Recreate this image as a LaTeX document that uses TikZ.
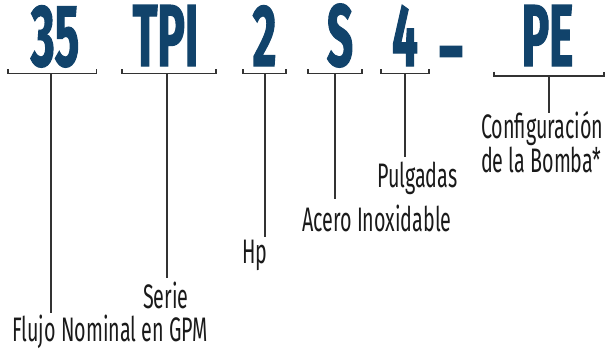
\documentclass[tikz,border=0pt]{standalone}
\usepackage{fontspec}
\newfontfamily\bigf{Fira Sans}[FakeStretch=0.52,FakeBold=1.2]
\newfontfamily\labf{Fira Sans}[FakeStretch=0.58]
\definecolor{codeblue}{HTML}{11436B}
\definecolor{linegray}{HTML}{333333}
\definecolor{labgray}{HTML}{1A1A1A}
\begin{document}
\begin{tikzpicture}[x=1pt,y=-1pt]
\useasboundingbox (0,0) rectangle (606,349);
\tikzset{
  code/.style={text=codeblue, font=\bigf\bfseries\fontsize{88}{88}\selectfont, inner sep=0pt, anchor=base},
  lab/.style={text=labgray, font=\labf\fontsize{34}{29}\selectfont, inner sep=0pt, anchor=base west, align=left},
  brk/.style={draw=linegray, line width=1.8pt, line join=miter},
  stem/.style={draw=linegray, line width=1.5pt}
}
% code letters
\node[code] (c1) at (55,66) {35};
\node[code] (c2) at (165.5,66) {TPI};
\node[code] (c3) at (264.5,66) {2};
\node[code] (c4) at (340,66) {S};
\node[code] (c5) at (405,66) {4};
\node[code] (cd) at (451,79) {–};
\node[code] (c6) at (547.5,66) {PE};
% brackets
\draw[brk] (8,69) -- (8,73.5) -- (96.5,73.5) -- (96.5,69);
\draw[brk] (122,69) -- (122,73.5) -- (216,73.5) -- (216,69);
\draw[brk] (243,69) -- (243,73.5) -- (286,73.5) -- (286,69);
\draw[brk] (308,69) -- (308,73.5) -- (362,73.5) -- (362,69);
\draw[brk] (381,69) -- (381,73.5) -- (429,73.5) -- (429,69);
\draw[brk] (494,71.5) -- (494,76) -- (604,76) -- (604,71.5);
\coordinate (b1) at (51,73.5);
\coordinate (b2) at (167,73.5);
\coordinate (b3) at (265,73.5);
\coordinate (b4) at (335,73.5);
\coordinate (b5) at (405,73.5);
\coordinate (b6) at (549,76);
% stem ends
\coordinate (e1) at (51,313);
\coordinate (e2) at (167,278);
\coordinate (e3) at (265,237);
\coordinate (e4) at (335,199);
\coordinate (e5) at (405,157);
\coordinate (e6) at (549,113);
% labels
\node[lab] (l1) at (12,341) {Flujo Nominal en GPM};
\node[lab] (l2) at (143,308) {Serie};
\node[lab] (l3) at (242,263) {Hp};
\node[lab] (l4) at (302,231) {Acero Inoxidable};
\node[lab] (l5) at (377,187) {Pulgadas};
\node[lab] (l6) at (481,172) {Configuración\\de la Bomba*};
% stems
\draw[stem] (b1) -- (e1);
\draw[stem] (b2) -- (e2);
\draw[stem] (b3) -- (e3);
\draw[stem] (b4) -- (e4);
\draw[stem] (b5) -- (e5);
\draw[stem] (b6) -- (e6);
\end{tikzpicture}
\end{document}
